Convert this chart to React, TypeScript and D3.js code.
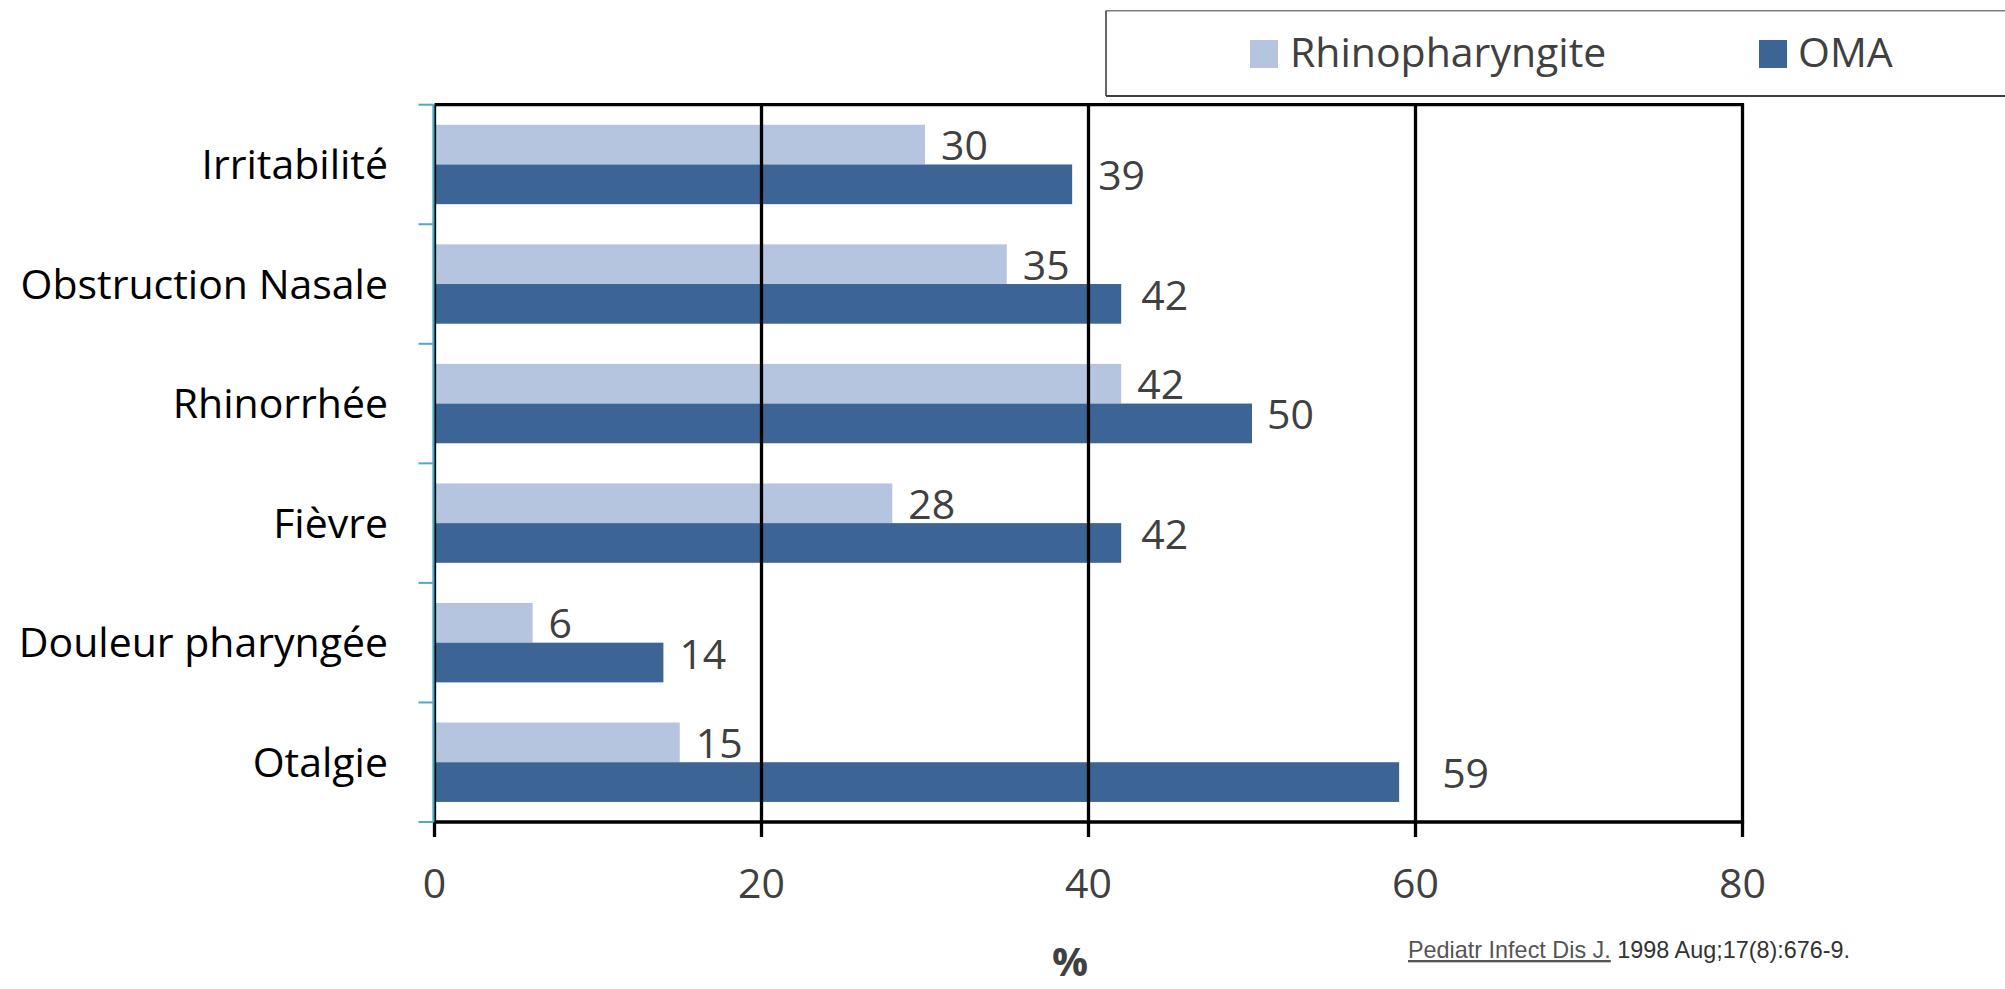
import React from "react";
import * as d3 from "d3";

// Symptom frequency (%) by diagnosis
const categories = [
  "Irritabilité",
  "Obstruction Nasale",
  "Rhinorrhée",
  "Fièvre",
  "Douleur pharyngée",
  "Otalgie",
];
const rhinopharyngite = [30, 35, 42, 28, 6, 15];
const oma = [39, 42, 50, 42, 14, 59];
const xTicks = [0, 20, 40, 60, 80];
const seriesNames = ["Rhinopharyngite", "OMA"];
const citationSource = "Pediatr Infect Dis J.";
const citationRest = " 1998 Aug;17(8):676-9.";

// Layout and styling
const W = 2005;
const H = 989;
const plot = { left: 434.5, right: 1742.5, top: 104.7, bottom: 822 };
const LIGHT = "#B5C4DF";
const DARK = "#3C6495";
const AXIS_CYAN = "#4BACC6";
const TEXT_GREY = "#404040";
const FONT = "'Open Sans', sans-serif";
const LABEL_SIZE = 41;
const lightLabelGap = 18;
const darkLabelGaps = [28, 22, 17, 22, 18, 45];

export default function App() {
  const x = d3.scaleLinear().domain([0, 80]).range([plot.left, plot.right]);
  const y = d3
    .scaleBand<string>()
    .domain(categories)
    .range([plot.top, plot.bottom])
    .padding(0);
  const band = y.bandwidth();
  const barH = band * 0.332;
  const barOffset = (band - 2 * barH) / 2;

  const boundaries = d3.range(categories.length + 1).map(
    (i) => plot.top + i * band
  );

  return (
    <svg
      width={W}
      height={H}
      style={{ position: "absolute", left: 0, top: 0, background: "#fff" }}
    >
      {/* Legend box */}
      <g>
        <line x1={1106} x2={W + 2} y1={10.7} y2={10.7} stroke="#7f7f7f" strokeWidth={1.6} />
        <line x1={1106} x2={W + 2} y1={96} y2={96} stroke="#000" strokeWidth={1.6} />
        <line x1={1106} x2={1106} y1={10.7} y2={96} stroke="#404040" strokeWidth={1.6} />
        <rect x={1250} y={40} width={28} height={28} fill={LIGHT} />
        <text x={1290} y={67} fontFamily={FONT} fontSize={LABEL_SIZE} fill={TEXT_GREY}>
          {seriesNames[0]}
        </text>
        <rect x={1759} y={40} width={28} height={28} fill={DARK} />
        <text x={1798} y={67} fontFamily={FONT} fontSize={LABEL_SIZE} fill={TEXT_GREY}>
          {seriesNames[1]}
        </text>
      </g>

      {/* Bars */}
      {categories.map((c, i) => {
        const y0 = (y(c) as number) + barOffset;
        return (
          <g key={c}>
            <rect
              x={x(0)}
              y={y0}
              width={x(rhinopharyngite[i]) - x(0)}
              height={barH}
              fill={LIGHT}
            />
            <rect
              x={x(0)}
              y={y0 + barH}
              width={x(oma[i]) - x(0)}
              height={barH}
              fill={DARK}
            />
          </g>
        );
      })}

      {/* Vertical gridlines with tick marks */}
      {xTicks.map((t) => (
        <line
          key={t}
          x1={x(t)}
          x2={x(t)}
          y1={plot.top}
          y2={plot.bottom + 15}
          stroke="#000"
          strokeWidth={3.3}
        />
      ))}
      {/* Top and bottom frame */}
      <line x1={plot.left} x2={plot.right + 1.6} y1={plot.top} y2={plot.top} stroke="#000" strokeWidth={3.3} />
      <line x1={plot.left} x2={plot.right + 1.6} y1={plot.bottom} y2={plot.bottom} stroke="#000" strokeWidth={3.3} />

      {/* Category axis */}
      <line
        x1={plot.left - 1}
        x2={plot.left - 1}
        y1={plot.top}
        y2={plot.bottom}
        stroke={AXIS_CYAN}
        strokeWidth={2}
      />
      {boundaries.map((b, i) => (
        <line
          key={i}
          x1={plot.left - 16}
          x2={plot.left - 1}
          y1={b}
          y2={b}
          stroke={AXIS_CYAN}
          strokeWidth={2}
        />
      ))}
      {categories.map((c) => (
        <text
          key={c}
          x={388}
          y={(y(c) as number) + band / 2 + 14.5}
          textAnchor="end"
          fontFamily={FONT}
          fontSize={LABEL_SIZE}
          fill="#000"
        >
          {c}
        </text>
      ))}

      {/* Value labels */}
      {categories.map((c, i) => {
        const y0 = (y(c) as number) + barOffset;
        return (
          <g key={c} fontFamily={FONT} fontSize={LABEL_SIZE} fill={TEXT_GREY}>
            <text x={x(rhinopharyngite[i]) + lightLabelGap - 2} y={y0 + barH / 2 + 15.5}>
              {rhinopharyngite[i]}
            </text>
            <text x={x(oma[i]) + darkLabelGaps[i] - 2} y={y0 + barH * 1.5 + 6}>
              {oma[i]}
            </text>
          </g>
        );
      })}

      {/* X tick labels */}
      {xTicks.map((t) => (
        <text
          key={t}
          x={x(t)}
          y={897.5}
          textAnchor="middle"
          fontFamily={FONT}
          fontSize={LABEL_SIZE}
          fill={TEXT_GREY}
        >
          {t}
        </text>
      ))}
      <text
        x={1070}
        y={976}
        textAnchor="middle"
        fontFamily={FONT}
        fontWeight={700}
        fontSize={40}
        fill={TEXT_GREY}
      >
        %
      </text>

      {/* Source */}
      <text x={1408} y={958} fontFamily="'Liberation Sans', Arial, sans-serif" fontSize={23.4} fill="#333">
        <tspan fill="#555" textDecoration="underline">
          {citationSource}
        </tspan>
        {citationRest}
      </text>
    </svg>
  );
}
